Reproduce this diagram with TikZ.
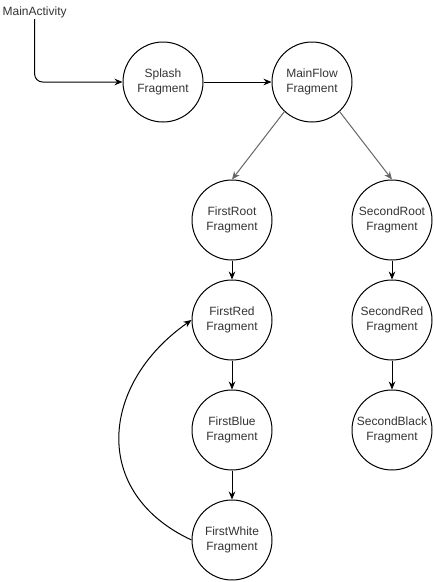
\documentclass[tikz,border=0pt]{standalone}
\usepackage{fontspec}
\setmainfont{Liberation Sans}
\usepackage{tikz}
\usetikzlibrary{arrows.meta}
\usetikzlibrary{positioning}

\tikzset{
	frag/.style={circle, draw, line width=0.75pt, minimum size=60pt, inner sep=0pt,
		align=center, text=black!80, font=\fontsize{9}{11.3}\selectfont},
	link/.style={line width=0.75pt, -{Stealth[length=6pt,width=5pt]}},
}

\begin{document}
\begin{tikzpicture}[x=0.75pt, y=-0.75pt]
	\useasboundingbox (0,0) rectangle (434,582);

	\node (MainActivity) [anchor=west, inner sep=1pt, text=black!80, font=\fontsize{9}{11}\selectfont] at (1,12) {MainActivity};

	\node (Splash) [frag] at (163,82) {Splash\\Fragment};
	\node (MainFlow) [frag] at (312,82) {MainFlow\\Fragment};

	\node (FirstRoot) [frag] at (232,220) {FirstRoot\\Fragment};
	\node (FirstRed) [frag] at (232,320) {FirstRed\\Fragment};
	\node (FirstBlue) [frag] at (232,430) {FirstBlue\\Fragment};
	\node (FirstWhite) [frag] at (232,540) {FirstWhite\\Fragment};

	\node (SecondRoot) [frag] at (392,220) {SecondRoot\\Fragment};
	\node (SecondRed) [frag] at (392,320) {SecondRed\\Fragment};
	\node (SecondBlack) [frag] at (392,430) {SecondBlack\\Fragment};

	\draw [link, rounded corners=6] (MainActivity.south) |- (Splash.west);
	\draw [link] (Splash) -- (MainFlow);

	% branches
	\draw [link, draw=black!60] (MainFlow.-133) -- (FirstRoot.north);
	\draw [link, draw=black!60] (MainFlow.-47) -- (SecondRoot.north);

	\draw [link] (FirstRoot) -- (FirstRed);
	\draw [link] (FirstRed) -- (FirstBlue);
	\draw [link] (FirstBlue) -- (FirstWhite);

	\draw [link] (SecondRoot) -- (SecondRed);
	\draw [link] (SecondRed) -- (SecondBlack);

	% back to red
	\draw [link] (FirstWhite.west) to[out=155, in=215, looseness=1.3] (FirstRed.west);

\end{tikzpicture}
\end{document}
